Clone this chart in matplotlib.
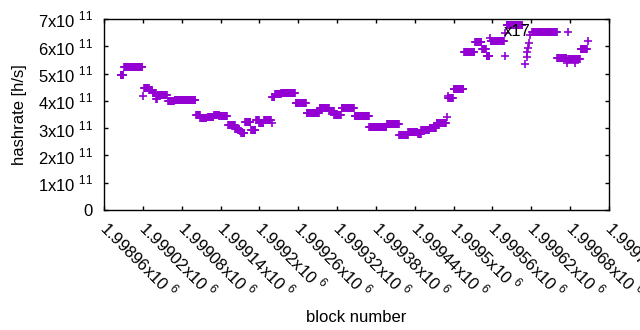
import numpy as np
import matplotlib
matplotlib.use('Agg')
import matplotlib.pyplot as plt

matplotlib.rcParams.update({'font.family': 'Liberation Sans', 'font.size': 12,
                            'mathtext.fontset': 'custom', 'mathtext.rm': 'Liberation Sans'})

# runs of blocks with the same hashrate (start block, end block, hashrate in 1e11 h/s)
run_start = [1998986, 1998991, 1999022, 1999030, 1999035, 1999041, 1999043, 1999059,
             1999069, 1999102, 1999109, 1999120, 1999130, 1999138, 1999152, 1999163,
             1999170, 1999172, 1999178, 1999187, 1999195, 1999200, 1999207, 1999220,
             1999224, 1999234, 1999256, 1999273, 1999293, 1999308, 1999316, 1999327,
             1999347, 1999370, 1999397, 1999416, 1999430, 1999445, 1999450, 1999463,
             1999474, 1999492, 1999500, 1999516, 1999533, 1999544, 1999551, 1999557,
             1999582, 1999621, 1999660, 1999677, 1999686, 1999696]
run_end = [1998990, 1999019, 1999029, 1999034, 1999040, 1999042, 1999057, 1999068,
           1999101, 1999108, 1999118, 1999129, 1999137, 1999150, 1999162, 1999169,
           1999171, 1999177, 1999186, 1999194, 1999199, 1999206, 1999218, 1999223,
           1999233, 1999255, 1999272, 1999292, 1999307, 1999315, 1999326, 1999346,
           1999369, 1999396, 1999415, 1999429, 1999444, 1999449, 1999462, 1999473,
           1999488, 1999499, 1999515, 1999532, 1999543, 1999550, 1999555, 1999578,
           1999606, 1999659, 1999674, 1999685, 1999695, 1999706]
run_value = [4.96, 5.23, 4.46, 4.38, 4.29, 4.05, 4.21, 3.98,
             4.03, 3.48, 3.39, 3.42, 3.48, 3.46, 3.11, 2.98,
             2.90, 2.82, 3.21, 2.93, 3.31, 3.18, 3.30, 4.14,
             4.25, 4.28, 3.93, 3.57, 3.73, 3.62, 3.48, 3.73,
             3.43, 3.04, 3.14, 2.74, 2.87, 2.77, 2.93, 3.00,
             3.18, 4.10, 4.43, 5.79, 6.14, 5.89, 5.64, 6.19,
             6.77, 6.53, 5.58, 5.53, 5.52, 5.89]

# isolated blocks
single_block = [1999021, 1999219, 1999490, 1999491, 1999556, 1999579, 1999580,
                1999610, 1999613, 1999614, 1999615, 1999617, 1999618, 1999675,
                1999676, 1999688, 1999707]
single_value = [4.18, 3.18, 3.40, 4.19, 6.31, 5.65, 6.47,
                5.34, 5.62, 5.80, 5.92, 6.11, 6.41, 5.38,
                6.51, 5.40, 6.20]

blocks = list(single_block)
values = list(single_value)
for s, e, v in zip(run_start, run_end, run_value):
    n = e - s + 1
    blocks += list(range(s, e + 1))
    values += [v] * n
blocks = np.array(blocks)
values = np.array(values) * 1e11

fig = plt.figure(figsize=(6.4, 3.3), dpi=100)
ax = fig.add_axes([104/640, 120/330, 505/640, 191/330])
ax.plot(blocks, values, '+', color='#9400D3', markersize=6, markeredgewidth=1.2)

ax.set_xlim(1998960, 1999740)
ax.set_ylim(0, 7e11)

xt = np.arange(1998960, 1999741, 60)
ax.set_xticks(xt)
ax.set_xticklabels([('%.5f' % (t / 1e6)).rstrip('0') + r'x10 $^{\mathregular{6}}$' for t in xt],
                   rotation=-45, ha='left', va='center', rotation_mode='anchor')
yt = np.arange(0, 8) * 1e11
ax.set_yticks(yt)
ax.set_yticklabels(['0'] + ['%dx10 $^{\\mathregular{11}}$' % i for i in range(1, 8)])

ax.tick_params(direction='in', length=3, top=True, right=True, width=1)
ax.tick_params(axis='y', pad=8)
ax.tick_params(axis='x', pad=10)
for s in ax.spines.values():
    s.set_linewidth(1)

ax.set_xlabel('block number', labelpad=6)
ax.set_ylabel('hashrate [h/s]', labelpad=8)

ax.text(1999599, 6.56e11, 'x17', ha='center', va='center', fontsize=12)

plt.savefig('out.png', dpi=100)
